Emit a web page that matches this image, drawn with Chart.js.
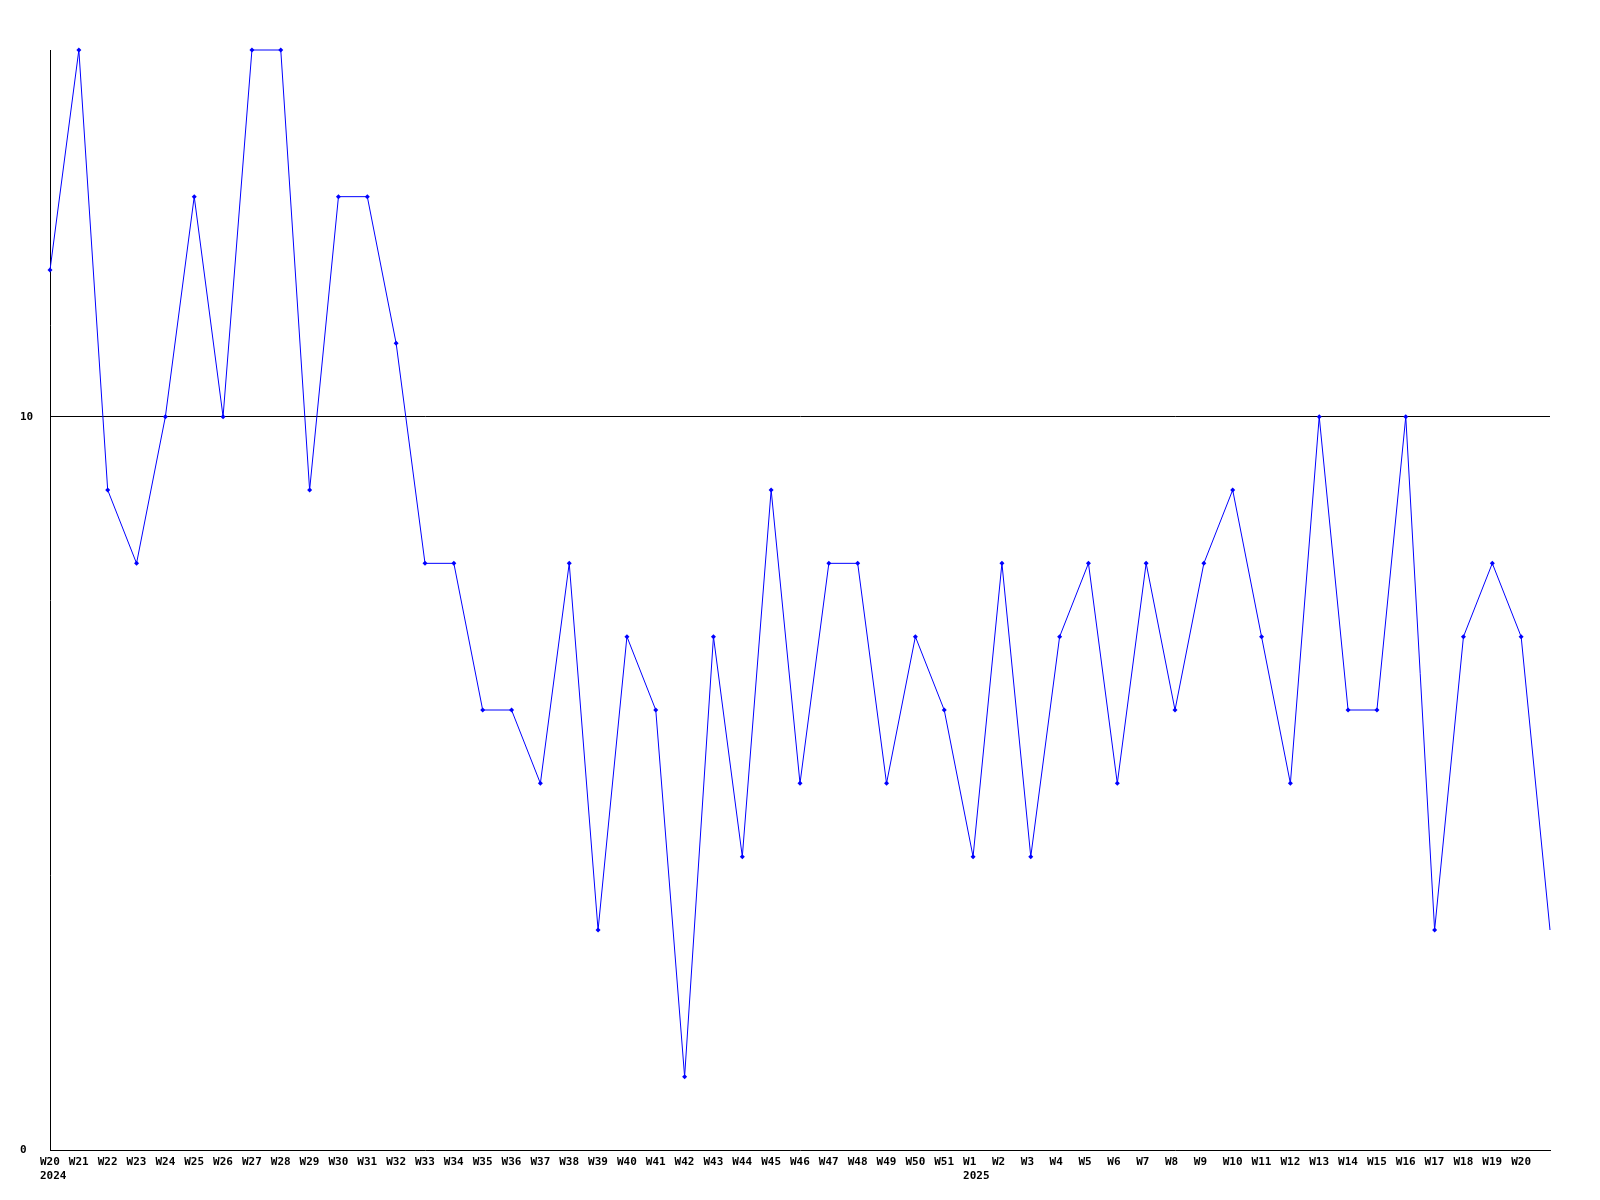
<!DOCTYPE html>
<html>
<head>
<meta charset="utf-8">
<script src="https://cdn.jsdelivr.net/npm/chart.js@4/dist/chart.umd.min.js"></script>
<style>
html,body{margin:0;padding:0;background:#fff;}
#wrap{width:1600px;height:1200px;position:relative;}
</style>
</head>
<body>
<div id="wrap"><canvas id="c" width="1600" height="1200"></canvas></div>
<script>
const weeks = ["W20","W21","W22","W23","W24","W25","W26","W27","W28","W29","W30","W31","W32","W33","W34","W35","W36","W37","W38","W39","W40","W41","W42","W43","W44","W45","W46","W47","W48","W49","W50","W51","W1","W2","W3","W4","W5","W6","W7","W8","W9","W10","W11","W12","W13","W14","W15","W16","W17","W18","W19","W20",""];
const yearMarks = {0: "2024", 32: "2025"};
const values = [12,15,9,8,10,13,10,15,15,9,13,13,11,8,8,6,6,5,8,3,7,6,1,7,4,9,5,8,8,5,7,6,4,8,4,7,8,5,8,6,8,9,7,5,10,6,6,10,3,7,8,7,3];
const yTicks = [0,10];
const yMax = 15;

const labels = values.map((v,i)=>{
  const w = i < weeks.length ? weeks[i] : "";
  return yearMarks[i] ? [w, yearMarks[i]] : w;
});
const radii = values.map((v,i)=> i === values.length-1 ? 0 : 2.5);

const FONT = {family: "'DejaVu Sans Mono', 'Liberation Mono', monospace", size: 11, weight: 'bold', lineHeight: 1.27};

new Chart(document.getElementById('c'), {
  type: 'line',
  data: {
    labels: labels,
    datasets: [{
      data: values,
      borderColor: '#0000ff',
      backgroundColor: '#0000ff',
      borderWidth: 1,
      pointStyle: 'rectRot',
      pointRadius: radii,
      pointHoverRadius: radii,
      pointBorderWidth: 0,
      tension: 0,
      clip: false
    }]
  },
  options: {
    responsive: false,
    animation: false,
    devicePixelRatio: 1,
    layout: {padding: {top: 50, right: 50, left: 20, bottom: 0}},
    plugins: {legend: {display: false}, tooltip: {enabled: false}},
    scales: {
      x: {
        offset: false,
        grid: {display: false, drawTicks: false},
        border: {display: true, color: '#000', width: 1},
        ticks: {
          autoSkip: false, maxRotation: 0, minRotation: 0,
          align: 'start', labelOffset: -10,
          color: '#000', font: FONT, padding: 5
        },
        afterFit: (s) => { s.height = 50; }
      },
      y: {
        min: 0, max: yMax,
        afterBuildTicks: (s) => { s.ticks = yTicks.map(v => ({value: v})); },
        grid: {
          drawTicks: false,
          color: (ctx) => ctx.tick && ctx.tick.value === 10 ? '#000' : 'rgba(0,0,0,0)',
          lineWidth: 1
        },
        border: {display: true, color: '#000', width: 1},
        ticks: {color: '#000', font: {family: FONT.family, size: 11, weight: 'bold'}, crossAlign: 'far', padding: 10},
        afterFit: (s) => { s.width = 30; }
      }
    }
  }
});
</script>
</body>
</html>
